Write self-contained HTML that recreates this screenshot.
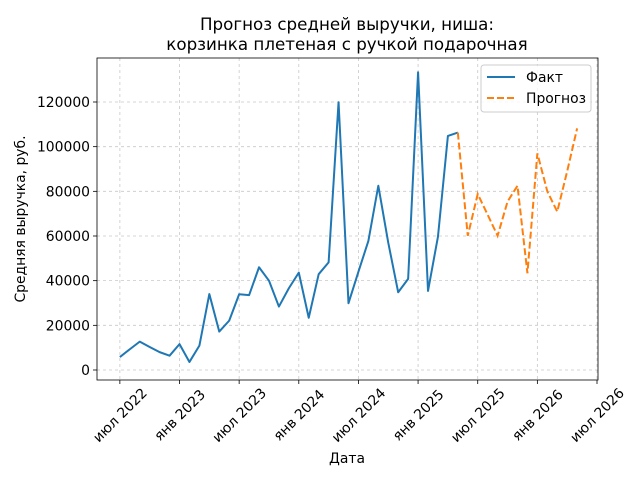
<!DOCTYPE html>
<html><head><meta charset="utf-8"><style>
body{margin:0;background:#fff;}
svg{font-family:"DejaVu Sans","Liberation Sans",sans-serif;}
</style></head><body>
<svg id="chart" width="640" height="480" viewBox="0 0 640 480" xmlns="http://www.w3.org/2000/svg">
<rect width="640" height="480" fill="#fff"/>
<text x="347" y="30" font-size="16.7" text-anchor="middle">Прогноз средней выручки, ниша:</text>
<text x="347" y="50" font-size="16.7" text-anchor="middle">корзинка плетеная с ручкой подарочная</text>
<g id="grid"></g>
<g id="axes"></g>
<g id="series"></g>
<text x="347" y="463" font-size="13.9" text-anchor="middle">Дата</text>
<text transform="translate(25,219) rotate(-90)" font-size="13.9" text-anchor="middle">Средняя выручка, руб.</text>
<g>
<rect x="481" y="65" width="110" height="47" rx="3" fill="#fff" fill-opacity="0.8" stroke="#ccc"/>
<line x1="487" y1="77" x2="515" y2="77" stroke="#1f77b4" stroke-width="2"/>
<text x="526" y="82" font-size="13.9">Факт</text>
<line x1="487" y1="98" x2="515" y2="98" stroke="#ff7f0e" stroke-width="2" stroke-dasharray="7,3"/>
<text x="526" y="103" font-size="13.9">Прогноз</text>
</g>
</svg>
<script>
const factValues=[5800,9300,12700,10300,8000,6400,11600,3600,10900,34000,17200,22100,33900,33500,46000,40000,28400,36600,43600,23400,42900,48200,119900,29900,44000,57800,82500,57000,34800,40800,133300,35400,59700,104800,106300];
const forecastValues=[106300,60100,78800,69500,60100,75400,82500,43300,97000,80000,70900,89000,108200];
const forecastStart=34;
const yTicks=[0,20000,40000,60000,80000,100000,120000];
const xTickLabels=["июл 2022","янв 2023","июл 2023","янв 2024","июл 2024","янв 2025","июл 2025","янв 2026","июл 2026"];
const L=97,R=598,T=58,B=380;
const xMin=-2.3,xMax=48.1,yMin=-4480,yMax=139700;
const xs=i=>L+(i-xMin)/(xMax-xMin)*(R-L);
const ys=v=>B-(v-yMin)/(yMax-yMin)*(B-T);
const NS="http://www.w3.org/2000/svg";
function mk(tag,attrs,parent){const e=document.createElementNS(NS,tag);for(const k in attrs)e.setAttribute(k,attrs[k]);parent.appendChild(e);return e;}
const grid=document.getElementById('grid'),axes=document.getElementById('axes'),series=document.getElementById('series');
yTicks.forEach(v=>{const y=ys(v);
const g=mk('line',{x1:L,x2:R,y1:y,y2:y,stroke:'#b0b0b0','stroke-width':0.8,'stroke-dasharray':'3,3','stroke-opacity':0.7},grid);


mk('line',{x1:L-4,x2:L,y1:y,y2:y,stroke:'#000','stroke-width':0.8},axes);
const t=mk('text',{x:L-7,y:y+5,'font-size':13.9,'text-anchor':'end'},axes);t.textContent=v;


});
xTickLabels.forEach((lab,k)=>{const x=xs(k*6);
const g=mk('line',{x1:x,x2:x,y1:T,y2:B,stroke:'#b0b0b0','stroke-width':0.8,'stroke-dasharray':'3,3','stroke-opacity':0.7},grid);


mk('line',{x1:x,x2:x,y1:B,y2:B+4,stroke:'#000','stroke-width':0.8},axes);
const t=mk('text',{transform:`translate(${x},${B+35}) rotate(-45)`,'font-size':13.9,'text-anchor':'middle',dy:'0.35em'},axes);t.textContent=lab;


});
const frame=mk('rect',{x:L,y:T,width:R-L,height:B-T,fill:'none',stroke:'#000','stroke-width':0.8},axes);


const fp=mk('polyline',{points:factValues.map((v,i)=>xs(i)+','+ys(v)).join(' '),fill:'none',stroke:'#1f77b4','stroke-width':2,'stroke-linejoin':'round'},series);


const pp=mk('polyline',{points:forecastValues.map((v,i)=>xs(forecastStart+i)+','+ys(v)).join(' '),fill:'none',stroke:'#ff7f0e','stroke-width':2,'stroke-dasharray':'7,3'},series);


</script>
</body></html>
